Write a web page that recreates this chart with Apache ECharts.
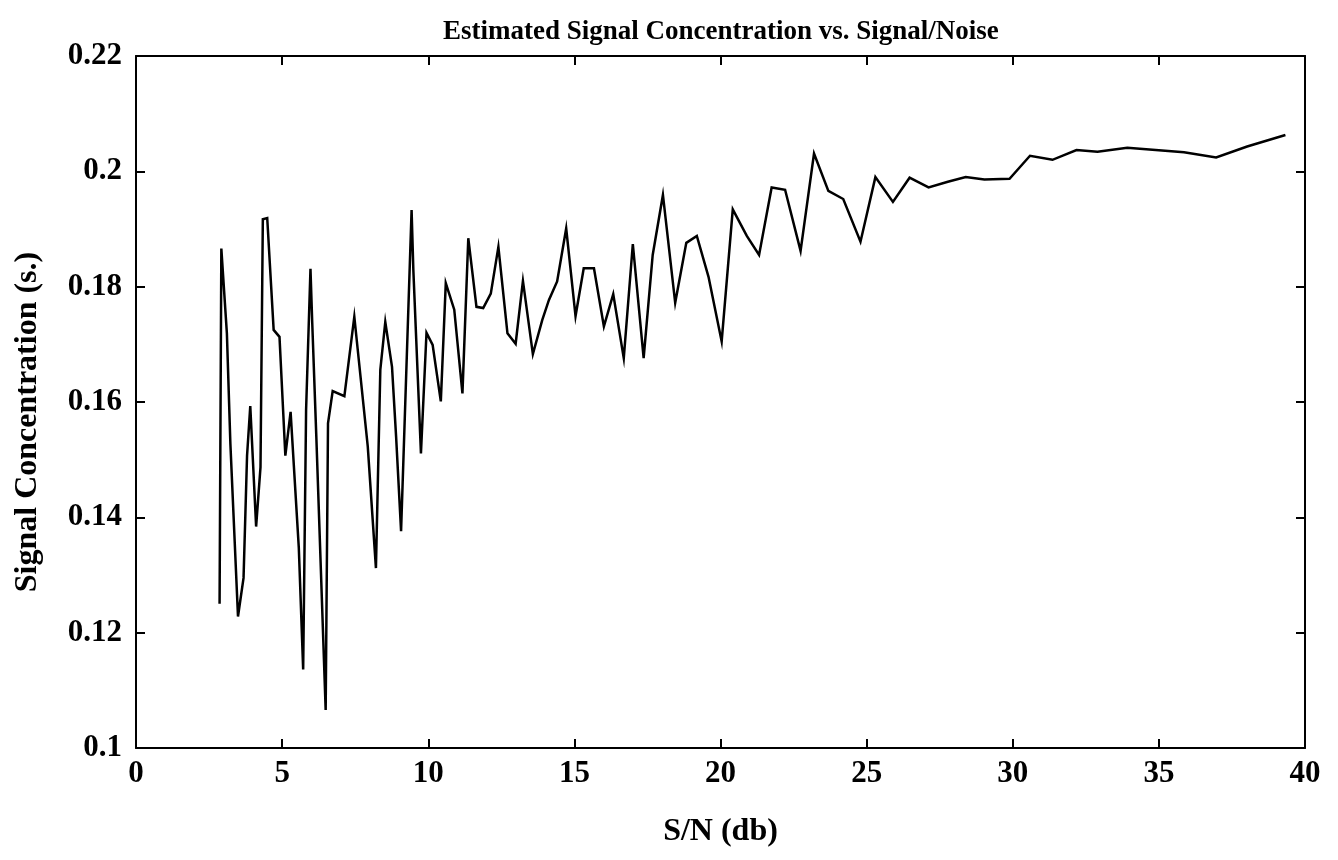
<!DOCTYPE html>
<html>
<head>
<meta charset="utf-8">
<title>Estimated Signal Concentration vs. Signal/Noise</title>
<script src="https://cdn.jsdelivr.net/npm/echarts@6/dist/echarts.min.js"></script>
<style>
  html, body { margin: 0; padding: 0; background: #fff; }
  #chart { width: 1338px; height: 860px; }
</style>
</head>
<body>
<div id="chart"></div>
<script>
// Signal-to-noise ratio (dB) for each estimate
const snrDb = [
  2.86, 2.92, 3.11, 3.23, 3.49, 3.68, 3.80, 3.91, 4.11, 4.26,
  4.34, 4.49, 4.71, 4.91, 5.11, 5.29, 5.57, 5.72, 5.82, 5.97,
  6.03, 6.17, 6.49, 6.57, 6.73, 7.13, 7.47, 7.93, 8.21, 8.36,
  8.53, 8.76, 8.90, 9.07, 9.43, 9.49, 9.75, 9.94, 10.15, 10.43,
  10.60, 10.89, 11.17, 11.37, 11.65, 11.88, 12.14, 12.40, 12.71, 12.99,
  13.24, 13.58, 13.90, 14.13, 14.41, 14.72, 15.04, 15.32, 15.67, 16.01,
  16.33, 16.69, 17.00, 17.37, 17.68, 18.03, 18.45, 18.83, 19.19, 19.59,
  20.04, 20.42, 20.90, 21.32, 21.75, 22.21, 22.74, 23.20, 23.69, 24.20,
  24.79, 25.30, 25.90, 26.47, 27.12, 27.78, 28.39, 29.03, 29.89, 30.59,
  31.36, 32.18, 32.90, 33.92, 34.89, 35.86, 36.96, 38.02, 39.33
];

// Estimated signal concentration (s.)
const concentration = [
  0.1250, 0.1866, 0.1719, 0.1527, 0.1228, 0.1295, 0.1507, 0.1593, 0.1384, 0.1487,
  0.1917, 0.1919, 0.1725, 0.1713, 0.1507, 0.1583, 0.1348, 0.1136, 0.1586, 0.1831,
  0.1738, 0.1540, 0.1066, 0.1563, 0.1619, 0.1610, 0.1748, 0.1523, 0.1312, 0.1656,
  0.1739, 0.1661, 0.1540, 0.1376, 0.1933, 0.1829, 0.1511, 0.1720, 0.1699, 0.1601,
  0.1806, 0.1760, 0.1615, 0.1884, 0.1765, 0.1763, 0.1788, 0.1869, 0.1719, 0.1701,
  0.1810, 0.1683, 0.1742, 0.1777, 0.1809, 0.1901, 0.1749, 0.1832, 0.1832, 0.1731,
  0.1787, 0.1676, 0.1874, 0.1676, 0.1855, 0.1959, 0.1772, 0.1876, 0.1888, 0.1817,
  0.1705, 0.1934, 0.1888, 0.1855, 0.1972, 0.1968, 0.1862, 0.2031, 0.1966, 0.1952,
  0.1878, 0.1990, 0.1947, 0.1989, 0.1972, 0.1982, 0.1990, 0.1986, 0.1987, 0.2027,
  0.2020, 0.2037, 0.2034, 0.2041, 0.2037, 0.2033, 0.2024, 0.2043, 0.2063
];

// Axis ranges and tick spacing
const xRange = { min: 0, max: 40, interval: 5 };
const yRange = { min: 0.1, max: 0.22, interval: 0.02 };

const FONT = '"Liberation Serif", "DejaVu Serif", serif';
const INK = '#000';

const points = snrDb.map((x, i) => [x, concentration[i]]);

const tickStyle = { show: true, inside: true, length: 9, lineStyle: { color: INK, width: 2 } };
const lineStyle = { show: true, onZero: false, lineStyle: { color: INK, width: 2 } };
const tickText = { fontFamily: FONT, fontSize: 31, fontWeight: 'bold', color: INK };
const nameText = { fontFamily: FONT, fontSize: 32, fontWeight: 'bold', color: INK };

const chart = echarts.init(document.getElementById('chart'), null, { renderer: 'canvas' });

chart.setOption({
  backgroundColor: '#fff',
  animation: false,
  title: {
    text: 'Estimated Signal Concentration vs. Signal/Noise',
    left: 438,
    top: 14,
    textStyle: { fontFamily: FONT, fontSize: 27, fontWeight: 'bold', color: INK }
  },
  grid: { left: 136, right: 33, top: 56, bottom: 112, containLabel: false },
  xAxis: [
    {
      type: 'value', position: 'bottom',
      min: xRange.min, max: xRange.max, interval: xRange.interval,
      name: 'S/N (db)', nameLocation: 'middle', nameGap: 68,
      nameTextStyle: nameText,
      axisLine: lineStyle, axisTick: tickStyle,
      axisLabel: Object.assign({ margin: 10 }, tickText),
      splitLine: { show: false }
    },
    {
      type: 'value', position: 'top',
      min: xRange.min, max: xRange.max, interval: xRange.interval,
      axisLine: lineStyle, axisTick: tickStyle,
      axisLabel: { show: false }, splitLine: { show: false }
    }
  ],
  yAxis: [
    {
      type: 'value', position: 'left',
      min: yRange.min, max: yRange.max, interval: yRange.interval,
      name: 'Signal Concentration (s.)', nameLocation: 'middle', nameGap: 92,
      nameRotate: 90,
      nameTextStyle: Object.assign({ padding: [0, 40, 0, 0] }, nameText),
      axisLine: lineStyle, axisTick: tickStyle,
      axisLabel: Object.assign({ margin: 14, formatter: v => String(+v.toFixed(2)) }, tickText),
      splitLine: { show: false }
    },
    {
      type: 'value', position: 'right',
      min: yRange.min, max: yRange.max, interval: yRange.interval,
      axisLine: lineStyle, axisTick: tickStyle,
      axisLabel: { show: false }, splitLine: { show: false }
    }
  ],
  series: [
    {
      type: 'line',
      xAxisIndex: 0,
      yAxisIndex: 0,
      data: points,
      showSymbol: false,
      smooth: false,
      lineStyle: { color: INK, width: 2.5, join: 'miter' }
    }
  ]
});
</script>
</body>
</html>
